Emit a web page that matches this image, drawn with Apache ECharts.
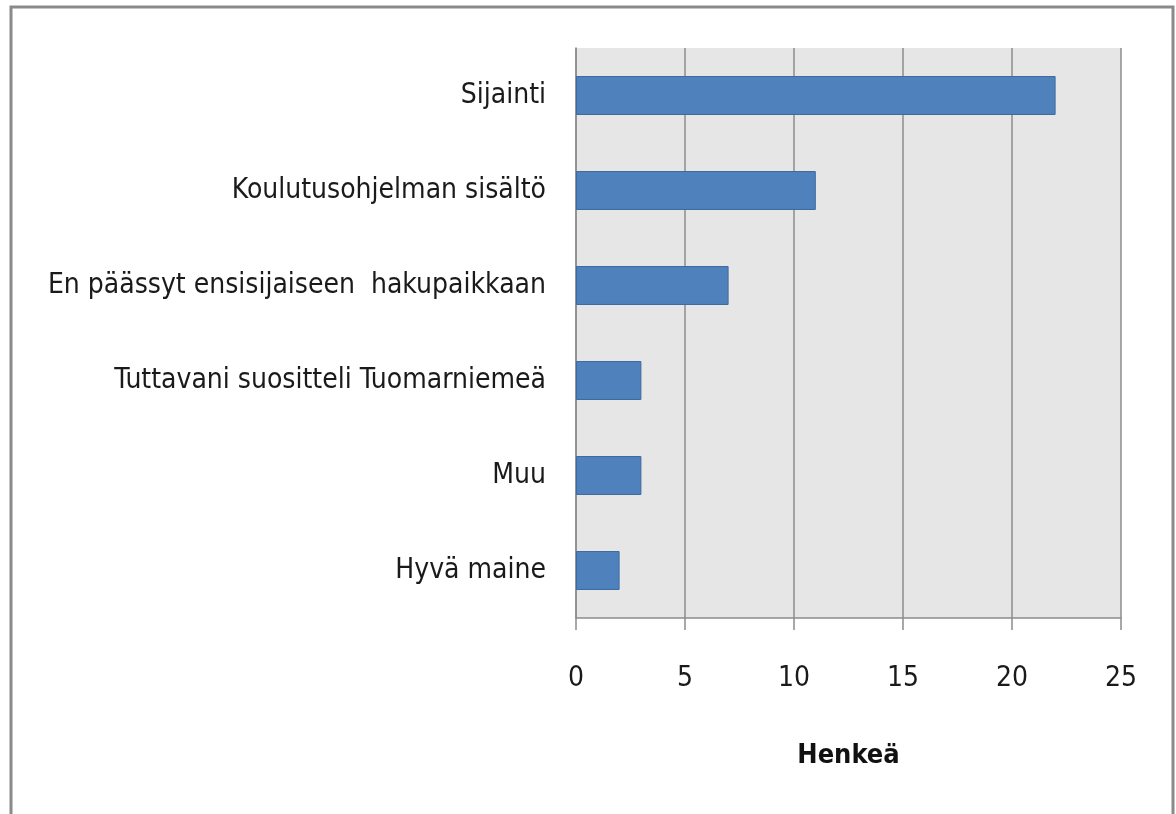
<!DOCTYPE html>
<html>
<head>
<meta charset="utf-8">
<script src="https://cdn.jsdelivr.net/npm/echarts@6/dist/echarts.min.js"></script>
<style>
  html, body { margin: 0; padding: 0; background: #fff; }
  #chart { width: 1176px; height: 814px; }
</style>
</head>
<body>
<div id="chart"></div>
<script>
// categories from bottom to top (ECharts category y axis starts at bottom)
const categories = [
  "Hyvä maine",
  "Muu",
  "Tuttavani suositteli Tuomarniemeä",
  "En päässyt ensisijaiseen  hakupaikkaan",
  "Koulutusohjelman sisältö",
  "Sijainti"
];
const henkea = [2, 3, 3, 7, 11, 22];
const xTicks = [0, 5, 10, 15, 20, 25];

const font = "'Liberation Sans Narrow', 'DejaVu Sans Condensed', sans-serif";

const chart = echarts.init(document.getElementById("chart"));
chart.setOption({
  animation: false,
  graphic: [
    {
      type: "rect",
      shape: { x: 11, y: 7, width: 1162, height: 840 },
      style: { fill: "none", stroke: "#8a8a8a", lineWidth: 3 },
      z: 100,
    },
  ],
  grid: {
    left: 576,
    right: 55,
    top: 48,
    bottom: 196,
    containLabel: false,
    outerBoundsMode: "none",
    show: true,
    backgroundColor: "#e6e6e6",
    borderWidth: 0,
  },
  xAxis: {
    type: "value",
    min: xTicks[0],
    max: xTicks[xTicks.length - 1],
    interval: 5,
    name: "Henkeä",
    nameLocation: "middle",
    nameGap: 124,
    nameTextStyle: {
      fontFamily: font,
      fontWeight: "bold",
      fontSize: 27,
      color: "#111",
    },
    axisLine: { show: true, lineStyle: { color: "#8c8c8c", width: 1.5 } },
    axisTick: { show: true, length: 12, lineStyle: { color: "#8c8c8c", width: 1.5 } },
    axisLabel: {
      fontFamily: font,
      fontSize: 28,
      color: "#1a1a1a",
      margin: 47,
    },
    splitLine: { show: true, lineStyle: { color: "#8c8c8c", width: 1.5 } },
  },
  yAxis: {
    type: "category",
    data: categories,
    axisLine: { show: true, lineStyle: { color: "#8c8c8c", width: 1.5 } },
    axisTick: { show: false },
    axisLabel: {
      fontFamily: font,
      fontSize: 28,
      color: "#1a1a1a",
      margin: 30,
    },
  },
  series: [
    {
      type: "bar",
      data: henkea,
      barWidth: "41%",
      itemStyle: {
        color: "#4f81bd",
        borderColor: "#3d6a9e",
        borderWidth: 1,
      },
    },
  ],
});
</script>
</body>
</html>
